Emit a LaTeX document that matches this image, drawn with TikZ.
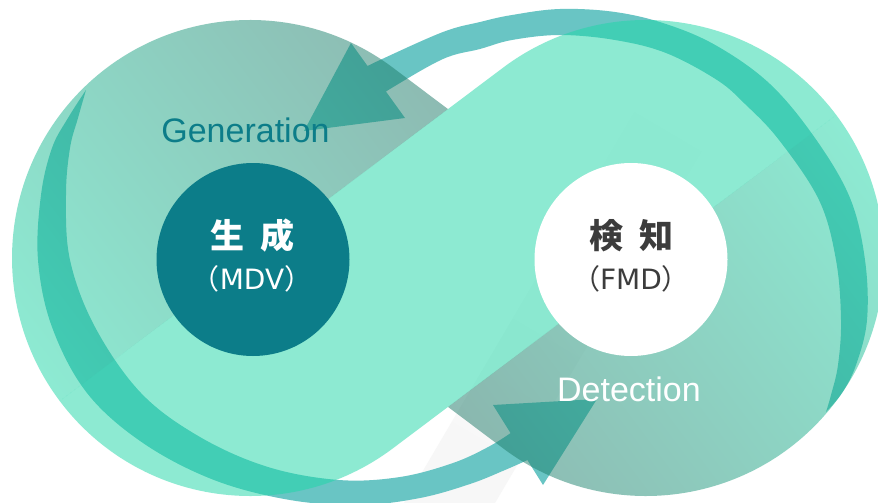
\documentclass[tikz,border=0pt]{standalone}
\usepackage{fontspec}
\setmainfont{Liberation Sans}
\newfontfamily\cjk{Noto Sans CJK JP}
\newfontfamily\dejavu{DejaVu Sans}
\definecolor{bandc}{RGB}{105,197,196}
\definecolor{mintc}{RGB}{29,215,167}
\definecolor{greyD}{RGB}{29,120,103}
\definecolor{tealc}{RGB}{12,125,137}
\definecolor{darktext}{RGB}{60,60,60}
\begin{document}
\begin{tikzpicture}[x=1pt,y=1pt]
\tikzset{
  bandfill/.style={fill=bandc},
  ribbon/.style={fill opacity=0.5},
  cjkbig/.style={inner sep=0pt, font={\cjk\bfseries\fontsize{34}{34}\selectfont}},
  abbr/.style={inner sep=0pt, font={\fontsize{28}{28}\selectfont}},
  label/.style={inner sep=0pt, anchor=base, font={\fontsize{34}{34}\selectfont}},
  hub/.style={circle, inner sep=0pt, minimum size=193pt}
}
\useasboundingbox (0,0) rectangle (878,-503);
\clip (0,0) rectangle (878,-503);
\fill[white] (0,0) rectangle (878,-503);
% faint background stripe
\shade[left color=white, right color=black!3, shading angle=-30.5]
  (700,0) -- (791,0) -- (495,-503) -- (404,-503) -- cycle;

% top arrow band
\fill[bandfill]
  plot[smooth, tension=0.6] coordinates {(360,-70) (380,-60) (443,-32) (480,-22) (512,-15) (560,-9) (615,-12) (666,-24) (717,-46) (770,-84) (815,-138) (850,-198) (865,-260) (867,-320) (856,-365) (842,-393) (826,-412)}
  -- plot[smooth, tension=0.6] coordinates {(826,-412) (831,-395) (838,-365) (841,-320) (836,-260) (819,-200) (779,-140) (745,-104) (717,-80) (666,-53) (615,-40) (560,-35) (512,-40) (480,-49) (443,-59) (390,-89) (378,-98)}
  -- cycle;
\fill[bandfill] (351,-43) -- (405,-118) -- (304,-131) -- cycle;

% bottom arrow band
\fill[bandfill]
  plot[smooth, tension=0.6] coordinates {(86,-90) (68,-118) (52,-148) (41,-195) (38,-260) (52,-327) (87,-393) (143,-443) (214,-480) (290,-500) (360,-505) (420,-498) (470,-484) (505,-470) (532,-458)}
  -- plot[smooth, tension=0.6] coordinates {(515,-430) (490,-446) (453,-463) (400,-477) (339,-480) (268,-467) (200,-437) (141,-393) (95,-327) (70,-260) (66,-195) (70,-148) (78,-118) (86,-90)}
  -- cycle;
\fill[bandfill] (493,-405) -- (543,-485) -- (597,-399) -- cycle;

% ribbons of the loop: grey half of the left loop
\begin{scope}
  \clip (448,-109.11) -- (393.04,-67.78) arc[start angle=53.06, end angle=216.94, radius=238] -- cycle;
  \begin{scope}[transform canvas={rotate around={36.94:(250,-258)}}]
    \shade[ribbon, left color=mintc, right color=greyD] (12,-520) rectangle (498,4);
  \end{scope}
\end{scope}
% grey half of the right loop
\begin{scope}
  \clip (448,-406.89) -- (502.96,-448.22) arc[start angle=233.06, end angle=396.94, radius=238] -- cycle;
  \begin{scope}[transform canvas={rotate around={36.94:(646,-258)}}]
    \shade[ribbon, left color=greyD, right color=mintc] (398,-520) rectangle (884,4);
  \end{scope}
\end{scope}
% mint ribbon
\fill[ribbon, mintc]
  (59.78,-401.04) -- (502.96,-67.78) arc[start angle=126.94, end angle=36.94, radius=238]
  -- (393.04,-448.22) arc[start angle=306.94, end angle=216.94, radius=238] -- cycle;

% hubs
\node[hub, fill=tealc] (mdv) at (253,-259.5) {};
\node[hub, fill=white] (fmd) at (631,-259.5) {};

\node[cjkbig, text=white] (gen-jp) at (252.5,-236) {生\hspace{0.45em}成};
\node[abbr, text=white] (gen-abbr) at (252,-278.5) {{\cjk （}{\dejavu MDV}{\cjk ）}};
\node[cjkbig, text=darktext] (det-jp) at (631.5,-236) {検\hspace{0.45em}知};
\node[abbr, text=darktext] (det-abbr) at (631,-279) {{\cjk （}{\dejavu FMD}{\cjk ）}};

\node[label, text=tealc] (gen-en) at (245.5,-142) {Generation};
\node[label, text=white] (det-en) at (629,-401) {Detection};
\end{tikzpicture}
\end{document}
